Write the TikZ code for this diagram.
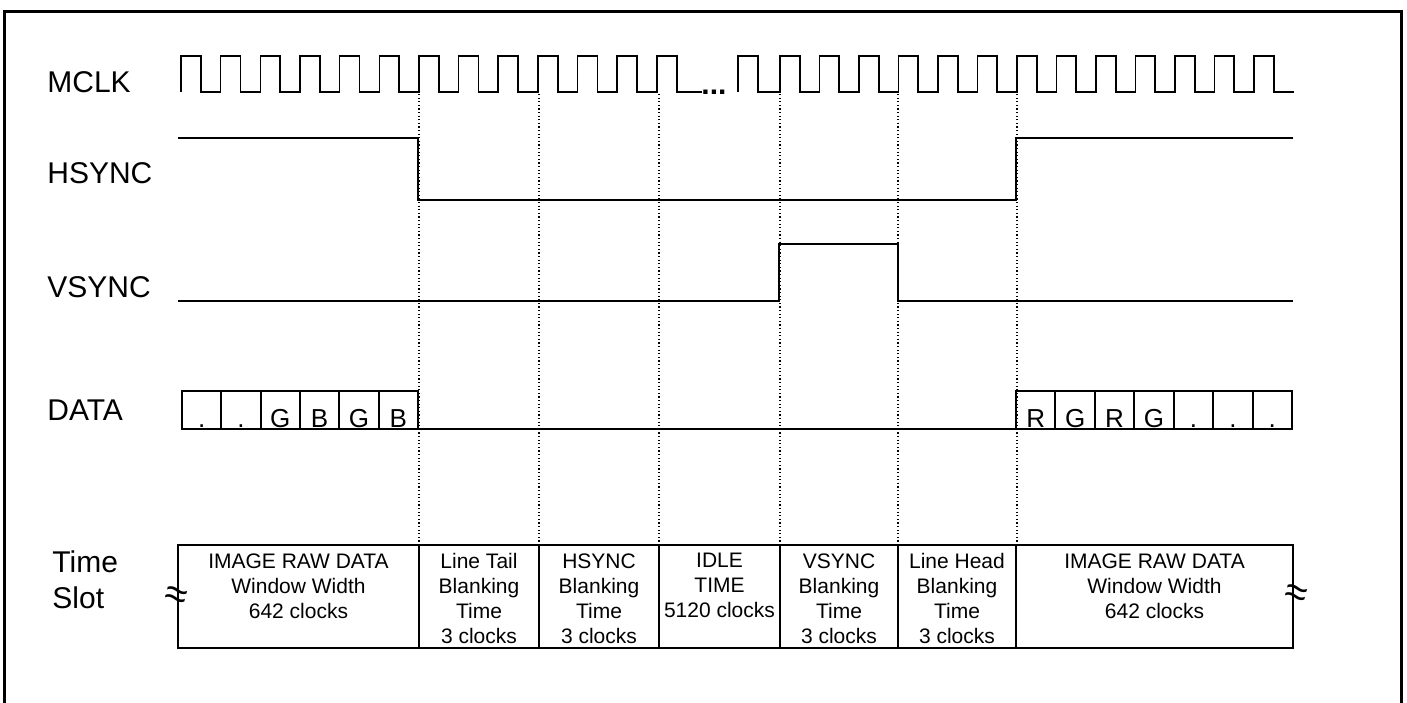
\documentclass[tikz,border=0pt]{standalone}
\usepackage{fontspec}
\setmainfont{Liberation Sans}
\begin{document}
\begin{tikzpicture}[x=0.5pt,y=-0.5pt,
  sig/.style={line width=1pt},
  clk/.style={line width=0.8pt},
  grid/.style={line width=0.6pt,dash pattern=on 0.6pt off 1.2pt},
  lbl/.style={anchor=base west,inner sep=0pt,font=\fontsize{15}{18}\selectfont},
  cell/.style={anchor=base,inner sep=0pt,font=\fontsize{13}{15}\selectfont},
  slot/.style={anchor=north,inner sep=0pt,align=center,font=\fontsize{10.5}{12.5}\selectfont},
  cut/.style={inner sep=0pt,font=\fontsize{20}{20}\selectfont}]
  \useasboundingbox (0,0) rectangle (1407,702);
  \clip (0,0) rectangle (1407,702);
  \draw[line width=1.5pt] (4.5,720) -- (4.5,11) -- (1401.5,11) -- (1401.5,720);
  % labels
  \node[lbl] (mclk) at (47,92) {MCLK};
  \node[lbl] (hsync) at (47,183) {HSYNC};
  \node[lbl] (vsync) at (47,297) {VSYNC};
  \node[lbl] (data) at (47,420) {DATA};
  \node[lbl] (time) at (52,572) {Time};
  \node[lbl] (slot) at (52,608) {Slot};
  % grid
  \foreach \x in {419,539,659,780,898,1017}
    \draw[grid] (\x,94) -- (\x,545);
  % MCLK
  \draw[clk] (181,92) \foreach \k in {0,...,12} { -- ++(0,-36) -- ++(19.83,0) -- ++(0,36) -- ++(19.83,0) } -- (702,92);
  \node[anchor=base west,inner sep=0pt,font=\fontsize{15}{18}\selectfont\bfseries] (dots) at (701,94) {...};
  \draw[clk] (738,92) -- (738,56) -- (758,56) -- (758,92) -- (780,92)
    \foreach \k in {0,...,12} { -- ++(0,-36) -- ++(19.75,0) -- ++(0,36) -- ++(19.75,0) };
  % HSYNC, VSYNC
  \draw[sig] (178,138) -- (418,138) -- (418,200) -- (1016,200) -- (1016,138) -- (1293,138);
  \draw[sig] (178,301) -- (779,301) -- (779,244) -- (898,244) -- (898,301) -- (1293,301);
  % DATA
  \foreach \t [count=\i from 0] in {{.},{.},G,B,G,B} {
    \draw[sig] (182+39.33*\i,391) rectangle ++(39.33,38);
    \node[cell] (dl\i) at (182+39.33*\i+19.67,427) {\t};
  }
  \draw[sig] (418,429) -- (1016,429);
  \foreach \t [count=\i from 0] in {R,G,R,G,{.},{.},{.}} {
    \draw[sig] (1016+39.43*\i,391) rectangle ++(39.43,38);
    \node[cell] (dr\i) at (1016+39.43*\i+19.71,427) {\t};
  }
  % time slots
  \draw[sig] (178,545) rectangle (1293,648);
  \foreach \x in {419,539,659,780,898,1016}
    \draw[sig] (\x,545) -- (\x,648);
  \node[slot] (raw1) at (298.5,553) {IMAGE RAW DATA\\Window Width\\642 clocks};
  \node[slot] (tail) at (479,553) {Line Tail\\Blanking\\Time\\3 clocks};
  \node[slot] (hsb) at (599,553) {HSYNC\\Blanking\\Time\\3 clocks};
  \node[slot] (idle) at (719.5,553) {IDLE\\TIME\\5120 clocks};
  \node[slot] (vsb) at (839,553) {VSYNC\\Blanking\\Time\\3 clocks};
  \node[slot] (head) at (957,553) {Line Head\\Blanking\\Time\\3 clocks};
  \node[slot] (raw2) at (1154.5,553) {IMAGE RAW DATA\\Window Width\\642 clocks};
  \node[cut,rotate=-15] (cutl) at (176,598) {≈};
  \node[cut,rotate=-15] (cutr) at (1296,596) {≈};
\end{tikzpicture}
\end{document}
